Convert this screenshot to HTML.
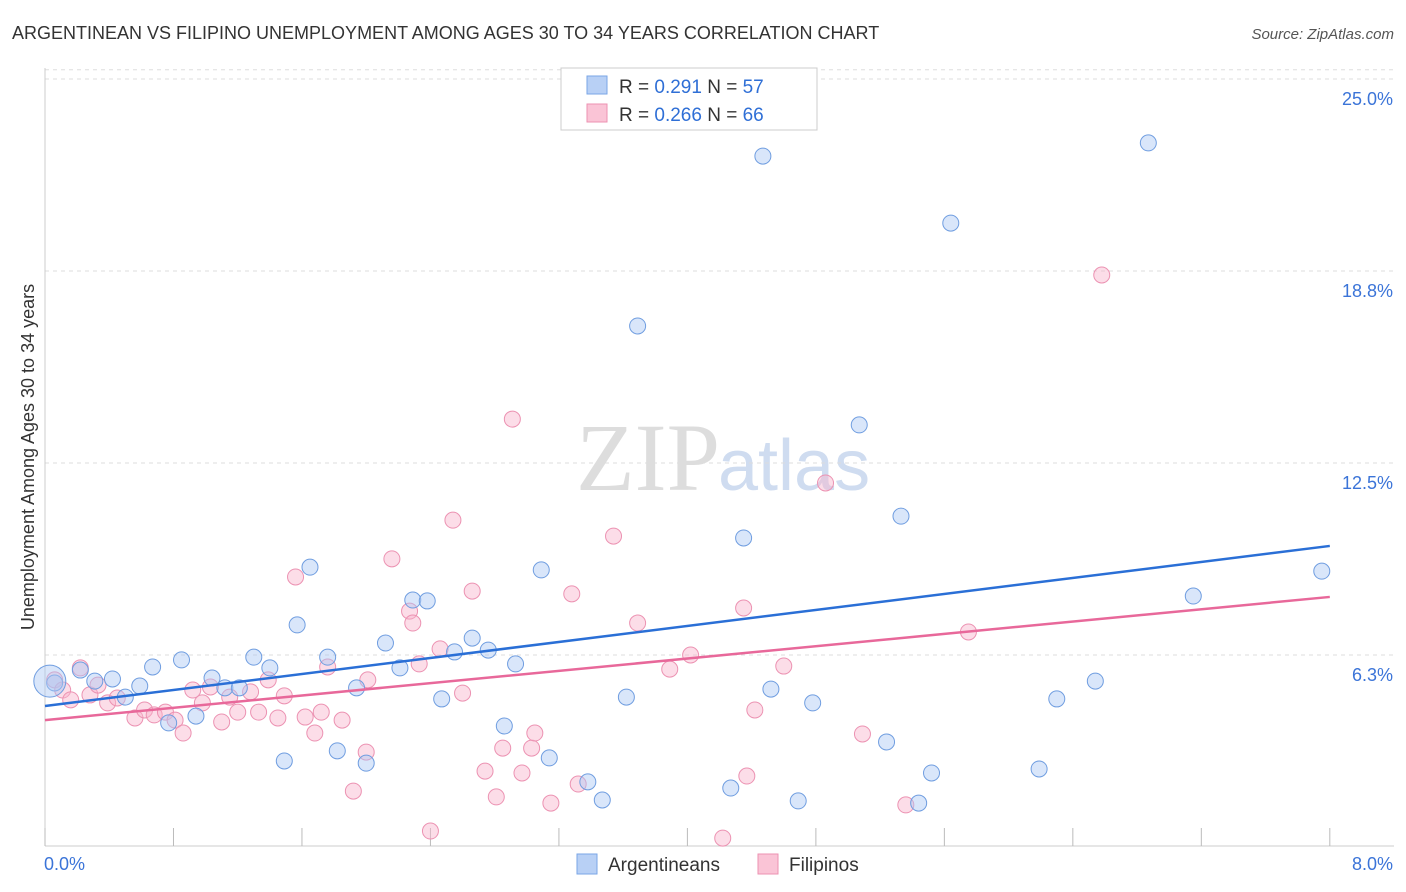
<!DOCTYPE html>
<html><head><meta charset="utf-8"><style>
body{margin:0;background:#fff;font-family:"Liberation Sans",sans-serif;}
#wrap{position:relative;width:1406px;height:892px;overflow:hidden;}
</style></head><body>
<div id="wrap">
<svg id="chart" width="1406" height="892" xmlns="http://www.w3.org/2000/svg">
<text x="12" y="39" font-size="18" fill="#333">ARGENTINEAN VS FILIPINO UNEMPLOYMENT AMONG AGES 30 TO 34 YEARS CORRELATION CHART</text>
<text x="1394" y="39" font-size="15" fill="#555" font-style="italic" text-anchor="end">Source: ZipAtlas.com</text>
<text x="720" y="490" font-size="96" fill="#ddd" text-anchor="end" font-family="Liberation Serif,serif">ZIP</text>
<text x="718" y="490" font-size="72" fill="#cfdcf0">atlas</text>
<text transform="translate(34,457) rotate(-90)" font-size="18" fill="#333" text-anchor="middle">Unemployment Among Ages 30 to 34 years</text>
<g id="grid"></g><g id="pts"></g><g id="lines"></g>
<g>
<rect x="561" y="68" width="256" height="62" fill="#fff" stroke="#ccc"/>
<rect x="587" y="76" width="20" height="18" fill="#b8d0f5" stroke="#7aa6e6"/>
<rect x="587" y="104" width="20" height="18" fill="#fac4d6" stroke="#ec92b2"/>
<text x="619" y="93" font-size="19" fill="#333">R = <tspan fill="#2f6fd6">0.291</tspan>   N = <tspan fill="#2f6fd6">57</tspan></text>
<text x="619" y="121" font-size="19" fill="#333">R = <tspan fill="#2f6fd6">0.266</tspan>   N = <tspan fill="#2f6fd6">66</tspan></text>
</g>
<g>
<rect x="577" y="854" width="20" height="20" fill="#b8d0f5" stroke="#7aa6e6"/>
<text x="608" y="871" font-size="19" fill="#333">Argentineans</text>
<rect x="758" y="854" width="20" height="20" fill="#fac4d6" stroke="#ec92b2"/>
<text x="789" y="871" font-size="19" fill="#333">Filipinos</text>
</g>
</svg>
</div>
<script>
const yTicks=[6.25,12.5,18.75,25];
const yTickLabels=["6.3%","12.5%","18.8%","25.0%"];
const xTickLabels=["0.0%","8.0%"];
const blueX=[.06,.22,.31,.42,.50,.59,.67,.77,.85,.94,1.04,1.12,1.21,1.30,1.40,1.49,1.57,1.65,1.76,1.82,1.94,2.00,2.12,2.21,2.29,2.38,2.47,2.55,2.66,2.76,2.86,2.93,3.09,3.14,3.38,3.47,3.62,3.69,4.27,4.35,4.47,4.52,4.69,4.78,5.07,5.24,5.33,5.44,5.52,5.64,6.19,6.30,6.54,6.87,7.15,7.95,0.03];
const blueY=[5.34,5.76,5.40,5.47,4.88,5.24,5.86,4.04,6.09,4.26,5.50,5.18,5.18,6.18,5.83,2.80,7.23,9.11,6.18,3.13,5.18,2.73,6.64,5.83,8.04,8.01,4.82,6.35,6.80,6.41,3.94,5.96,9.02,2.90,2.12,1.53,4.88,16.96,1.92,10.06,22.49,5.14,1.50,4.69,13.74,3.42,10.77,1.43,2.41,20.31,2.54,4.82,5.40,22.92,8.17,8.98,5.40];
const pinkX=[.06,.11,.16,.22,.28,.33,.39,.45,.56,.62,.68,.75,.81,.86,.92,.98,1.03,1.10,1.15,1.20,1.28,1.33,1.39,1.45,1.49,1.56,1.62,1.68,1.72,1.76,1.85,1.92,2.00,2.01,2.16,2.27,2.29,2.33,2.40,2.46,2.54,2.60,2.66,2.74,2.81,2.85,2.91,2.97,3.03,3.05,3.15,3.28,3.32,3.54,3.69,3.89,4.02,4.22,4.35,4.37,4.42,4.60,4.86,5.09,5.36,5.75,6.58];
const pinkY=[5.44,5.11,4.79,5.83,4.95,5.27,4.69,4.85,4.20,4.46,4.30,4.39,4.13,3.71,5.11,4.69,5.21,4.07,4.88,4.39,5.05,4.39,5.44,4.20,4.92,8.79,4.23,3.71,4.39,5.86,4.13,1.82,3.09,5.44,9.38,7.68,7.29,5.96,0.52,6.45,10.64,5.01,8.33,2.47,1.63,3.22,13.93,2.41,3.22,3.71,1.43,8.24,2.05,10.12,7.29,5.79,6.25,0.29,7.78,2.31,4.46,5.89,11.85,3.68,1.37,7.00,18.62];
const blueTrend=[4.59,9.80];
const pinkTrend=[4.13,8.14];
const NS="http://www.w3.org/2000/svg";
const sx=v=>45+v*160.6, sy=v=>847-v*30.72;
function mk(t,a,p){const e=document.createElementNS(NS,t);for(const k in a)e.setAttribute(k,a[k]);p.appendChild(e);return e;}
const grid=document.getElementById('grid');
yTicks.forEach((t,i)=>{
 const l=mk('line',{x1:45,x2:1394,y1:sy(t),y2:sy(t),stroke:'#ddd','stroke-dasharray':'4,4'},grid);
 
 
 const tx=mk('text',{x:1393,y:sy(t)+26,'font-size':18,fill:'#3b74d8','text-anchor':'end'},grid);tx.textContent=yTickLabels[i];
 
 
});
mk('line',{x1:45,x2:1394,y1:sy(25.3),y2:sy(25.3),stroke:'#ddd','stroke-dasharray':'4,4'},grid);
mk('line',{x1:45,x2:45,y1:68,y2:846,stroke:'#ccc'},grid);
mk('line',{x1:45,x2:1394,y1:846,y2:846,stroke:'#ccc'},grid);
for(let i=0;i<=10;i++){const t=mk('line',{x1:sx(i*0.8),x2:sx(i*0.8),y1:828,y2:846,stroke:'#bbb'},grid);
 
 }
[[0,44,'start'],[8,1393,'end']].forEach((a,i)=>{const t=mk('text',{x:a[1],y:870,'font-size':18,fill:'#3b74d8','text-anchor':a[2]},grid);t.textContent=xTickLabels[i];
 
 });
const pts=document.getElementById('pts');
pinkX.forEach((x,i)=>{const c=mk('circle',{cx:sx(x),cy:sy(pinkY[i]),r:8,fill:'rgba(248,180,204,0.45)',stroke:'#ec92b2','stroke-width':1},pts);
 
 });
blueX.forEach((x,i)=>{const c=mk('circle',{cx:sx(x),cy:sy(blueY[i]),r:i==blueX.length-1?16:8,fill:'rgba(170,200,245,0.45)',stroke:'#6f9de0','stroke-width':1},pts);
 
 });
const lines=document.getElementById('lines');
const b=mk('line',{x1:sx(0),y1:sy(blueTrend[0]),x2:sx(8),y2:sy(blueTrend[1]),stroke:'#2a6fd6','stroke-width':2.5},lines);


const p=mk('line',{x1:sx(0),y1:sy(pinkTrend[0]),x2:sx(8),y2:sy(pinkTrend[1]),stroke:'#e8689a','stroke-width':2.5},lines);


</script>
</body></html>
